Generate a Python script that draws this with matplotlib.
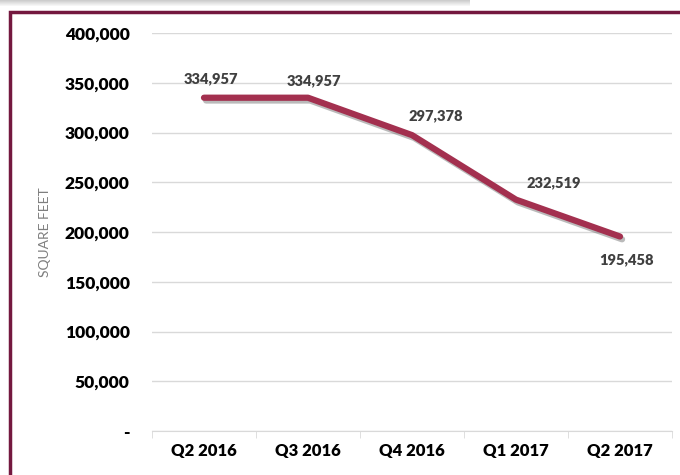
import numpy as np
import matplotlib.pyplot as plt
from matplotlib.patches import Rectangle
import matplotlib.patheffects as pe

quarters = ['Q2 2016', 'Q3 2016', 'Q4 2016', 'Q1 2017', 'Q2 2017']
sqft = [334957, 334957, 297378, 232519, 195458]
yticks = [0, 50000, 100000, 150000, 200000, 250000, 300000, 350000, 400000]
# label offsets in points (dx, dy)
offsets = [(5, 14), (4, 12), (17, 14), (27, 12), (5, -17)]

plt.rcParams['font.family'] = ['Lato', 'DejaVu Sans']

fig = plt.figure(figsize=(6.8, 4.75), dpi=100)
ax = fig.add_axes([152/680, 1 - 431/475, 520/680, 398/475])

# top shadow strip and maroon frame
for i in range(6):
    fig.patches.append(Rectangle((0, 1 - (i + 1)/475), 470/680, 1/475,
                                 transform=fig.transFigure, color='#c8c8c8',
                                 alpha=0.9 - i*0.15, lw=0))
fig.patches.append(Rectangle((10/680, -0.05), 1.2, 1 - 12/475 + 0.05,
                             transform=fig.transFigure, fill=False,
                             edgecolor='#74183f', lw=2.5))

x = np.arange(len(quarters))
ax.plot(x, sqft, color='#a3304f', lw=4.5, solid_capstyle='round',
        solid_joinstyle='round',
        path_effects=[pe.SimpleLineShadow(offset=(1.5, -2), shadow_color='#777777', alpha=0.5),
                      pe.Normal()])

for xi, v, (dx, dy) in zip(x, sqft, offsets):
    ax.annotate(f'{v:,}', (xi, v), xytext=(dx, dy), textcoords='offset points',
                ha='center', va='center', fontsize=10.5, fontweight='heavy',
                color='#404040')

ax.set_xlim(-0.5, len(quarters) - 0.5)
ax.set_ylim(0, 400000)
ax.set_yticks(yticks)
ax.set_yticklabels(['-'] + [f'{t:,}' for t in yticks[1:]])
ax.set_xticks(x)
ax.set_xticklabels(quarters)
ax.grid(axis='y', color='#d9d9d9', lw=1)
ax.set_axisbelow(True)
for s in ['top', 'right', 'left']:
    ax.spines[s].set_visible(False)
ax.spines['bottom'].set_color('#d9d9d9')
ax.tick_params(axis='y', length=0, pad=16, labelsize=12.5, labelcolor='black')
ax.tick_params(axis='x', length=0, pad=9, labelsize=12, labelcolor='black')
for lab in ax.get_xticklabels() + ax.get_yticklabels():
    lab.set_fontweight('heavy')
# small ticks at category boundaries on x axis
ax.set_xticks(np.arange(-0.5, len(quarters)), minor=True)
ax.tick_params(axis='x', which='minor', length=5, color='#d9d9d9', direction='out')
ax.set_ylabel('SQUARE FEET', fontsize=10, color='#7f7f7f', labelpad=10)

fig.savefig('out.png', dpi=100)
